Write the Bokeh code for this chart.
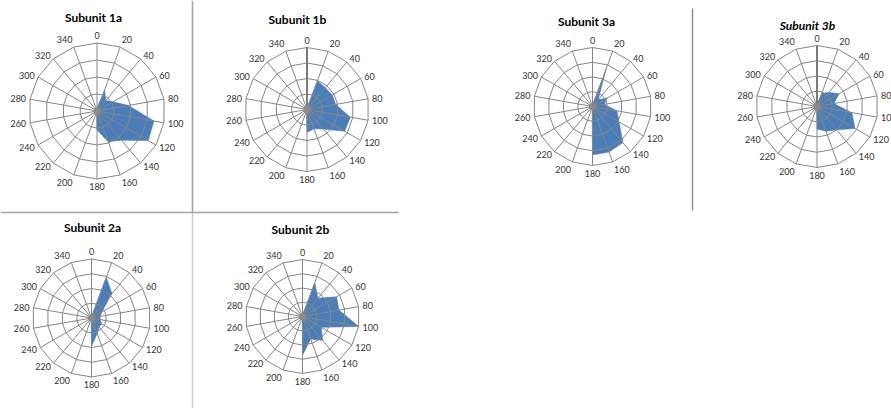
import numpy as np
from bokeh.plotting import figure
from bokeh.models import Range1d, ColumnDataSource
from bokeh.embed import file_html
from bokeh.resources import INLINE
from bokeh.core.properties import value

# ---------------- data ----------------
categories = [0, 20, 40, 60, 80, 100, 120, 140, 160, 180,
              200, 220, 240, 260, 280, 300, 320, 340]
category_labels = [str(c) for c in categories]

titles = ["Subunit 1a", "Subunit 1b", "Subunit 3a", "Subunit 3b",
          "Subunit 2a", "Subunit 2b"]

# values as fraction of the outer ring (rings every 0.25)
sub_1a = [0.05, 0.33, 0.20, 0.27, 0.47, 0.85, 0.87, 0.56, 0.48, 0.28,
          0.02, 0.02, 0.02, 0.02, 0.02, 0.02, 0.02, 0.02]
sub_1b = [0.03, 0.49, 0.46, 0.47, 0.47, 0.71, 0.70, 0.41, 0.33, 0.37,
          0.02, 0.02, 0.02, 0.02, 0.02, 0.02, 0.02, 0.02]
sub_3a = [0.03, 0.67, 0.15, 0.29, 0.20, 0.42, 0.52, 0.80, 0.82, 0.82,
          0.02, 0.02, 0.02, 0.02, 0.02, 0.02, 0.02, 0.02]
sub_3b = [0.03, 0.23, 0.30, 0.42, 0.28, 0.58, 0.72, 0.50, 0.43, 0.37,
          0.02, 0.02, 0.02, 0.02, 0.02, 0.02, 0.02, 0.02]
sub_2a = [0.03, 0.73, 0.54, 0.20, 0.15, 0.15, 0.20, 0.20, 0.28, 0.48,
          0.02, 0.02, 0.02, 0.02, 0.02, 0.02, 0.02, 0.02]
sub_2b = [0.03, 0.63, 0.42, 0.69, 0.65, 1.00, 0.38, 0.55, 0.42, 0.68,
          0.02, 0.02, 0.02, 0.02, 0.02, 0.02, 0.02, 0.02]
series = [sub_1a, sub_1b, sub_3a, sub_3b, sub_2a, sub_2b]
ring_levels = [0.25, 0.5, 0.75, 1.0]

# ---------------- layout (page pixel coordinates) ----------------
# centre x, centre y, radius, title x, title y, title style, emphasised 0-axis
layout = [
    (96.5, 110.5, 68, 93, 17, "bold", False),
    (306.5, 109.0, 62, 297, 19, "bold", True),
    (592.0, 106.0, 59, 586, 21, "bold", False),
    (816.5, 106.0, 61, 807, 25, "bold italic", True),
    (91.0, 317.5, 59, 92, 227, "bold", False),
    (302.0, 316.0, 57, 300, 229, "bold", False),
]

BLUE = "#4a7ebb"
GRID = "#868686"
FONT = "Lato"

W, H = 891, 408
p = figure(width=W, height=H, output_backend="svg", toolbar_location=None,
           x_range=Range1d(0, W), y_range=Range1d(H, 0),
           min_border=0)
p.axis.visible = False
p.grid.visible = False
p.outline_line_color = None
p.background_fill_color = "white"

theta = np.deg2rad(np.array(categories, dtype=float))
sx, sy = np.sin(theta), -np.cos(theta)

# separator lines
p.segment(x0=[192], y0=[0], x1=[192], y1=[212], line_color="#a6a6a6", line_width=1.6)
p.segment(x0=[192], y0=[212], x1=[192], y1=[408], line_color="#cfcfcf", line_width=1.6)
p.segment(x0=[0], y0=[212], x1=[398], y1=[212], line_color="#a6a6a6", line_width=1.6)
p.segment(x0=[692], y0=[8], x1=[692], y1=[210], line_color="#8c8c8c", line_width=1.4)

for vals, title, (cx, cy, R, tx, ty, tstyle, emph) in zip(series, titles, layout):
    v = np.array(vals, dtype=float)
    # filled area
    p.patch(x=list(cx + R * v * sx), y=list(cy + R * v * sy),
            fill_color=BLUE, line_color=BLUE, line_width=0.6)
    # rings
    xs, ys = [], []
    for lv in ring_levels:
        xs.append(list(np.append(cx + R * lv * sx, cx + R * lv * sx[0])))
        ys.append(list(np.append(cy + R * lv * sy, cy + R * lv * sy[0])))
    p.multi_line(xs=xs, ys=ys, line_color=GRID, line_width=1)
    # spokes
    p.segment(x0=[cx] * len(categories), y0=[cy] * len(categories),
              x1=list(cx + R * sx), y1=list(cy + R * sy),
              line_color=GRID, line_width=1)
    if emph:
        p.segment(x0=[cx], y0=[cy], x1=[cx + R * sx[0]], y1=[cy + R * sy[0]],
                  line_color="#7a7a7a", line_width=2)
    p.scatter(x=[cx], y=[cy], size=7, fill_color="#8a8a8a", line_color=None)
    # category labels
    off = R + 4
    aligns, bases = [], []
    for s, c in zip(sx, sy):
        aligns.append("left" if s > 0.2 else ("right" if s < -0.2 else "center"))
        bases.append("bottom" if c < -0.9 else ("top" if c > 0.9 else "middle"))
    src = ColumnDataSource(dict(x=list(cx + off * sx), y=list(cy + off * sy),
                                t=category_labels, a=aligns, b=bases))
    p.text(x="x", y="y", text="t", source=src, text_align="a", text_baseline="b",
           text_font=value(FONT), text_font_size="9px", text_color="#333333")
    # title
    p.text(x=[tx], y=[ty], text=[title], text_align="center", text_baseline="middle",
           text_font=value(FONT), text_font_size="12px", text_font_style=tstyle,
           text_color="#000000")

open("out.html", "w").write(file_html(p, INLINE))
